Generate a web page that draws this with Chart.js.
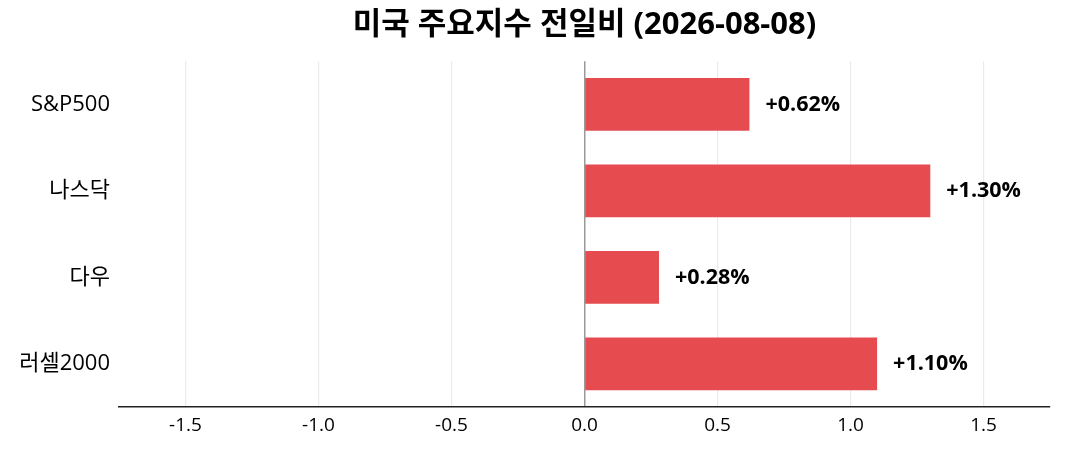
<!DOCTYPE html>
<html><head><meta charset="utf-8">
<script src="https://cdn.jsdelivr.net/npm/chart.js@4"></script>
<style>html,body{margin:0;padding:0;background:#fff}#wrap{width:1065px;height:450px}</style>
</head><body><div id="wrap"><canvas id="c"></canvas></div>
<script>
const categories = ['S&P500', '나스닥', '다우', '러셀2000'];
const values = [0.62, 1.30, 0.28, 1.10];
const valueLabels = ['+0.62%', '+1.30%', '+0.28%', '+1.10%'];
const titleText = '미국 주요지수 전일비 (2026-08-08)';
const FONT = "'Open Sans', 'Noto Sans CJK KR', sans-serif";

const labelPlugin = {
  id: 'valLabels',
  afterDatasetsDraw(chart) {
    const ctx = chart.ctx;
    const meta = chart.getDatasetMeta(0);
    ctx.save();
    ctx.font = 'bold 21.5px ' + FONT;
    ctx.fillStyle = '#000';
    ctx.textBaseline = 'middle';
    ctx.textAlign = 'left';
    meta.data.forEach((bar, i) => {
      ctx.fillText(valueLabels[i], bar.x + 16, bar.y);
    });
    ctx.restore();
  }
};

new Chart(document.getElementById('c'), {
  type: 'bar',
  data: {
    labels: categories,
    datasets: [{
      data: values,
      backgroundColor: '#e54b4f',
      barPercentage: 0.61,
      categoryPercentage: 1.0
    }]
  },
  options: {
    indexAxis: 'y',
    responsive: true,
    maintainAspectRatio: false,
    animation: false,
    layout: { padding: { left: 0, right: 15, top: 0, bottom: 6 } },
    plugins: {
      legend: { display: false },
      tooltip: { enabled: false },
      title: {
        display: true,
        fullSize: false,
        text: titleText,
        color: '#000',
        font: { family: FONT, size: 31, weight: 'bold' },
        padding: { top: 7, bottom: 17 }
      }
    },
    scales: {
      x: {
        min: -1.75,
        max: 1.75,
        afterBuildTicks(scale) {
          const t = [];
          for (let v = -1.5; v <= 1.5001; v += 0.5) t.push({ value: Math.round(v * 10) / 10 });
          scale.ticks = t;
        },
        ticks: {
          color: '#000',
          font: { family: FONT, size: 19 },
          padding: 7,
          callback: v => Number(v).toFixed(1)
        },
        grid: {
          drawTicks: false,
          color: ctx => (ctx.tick && ctx.tick.value === 0 ? '#999999' : '#ebebeb'),
          lineWidth: ctx => (ctx.tick && ctx.tick.value === 0 ? 1.5 : 1.2)
        },
        border: { display: true, color: '#222', width: 1.5 }
      },
      y: {
        afterFit(scale) { scale.width = 119; },
        ticks: {
          color: '#000',
          font: { family: FONT, size: 22 },
          padding: 9
        },
        grid: { display: false, drawTicks: false },
        border: { display: false }
      }
    }
  },
  plugins: [labelPlugin]
});
</script></body></html>
